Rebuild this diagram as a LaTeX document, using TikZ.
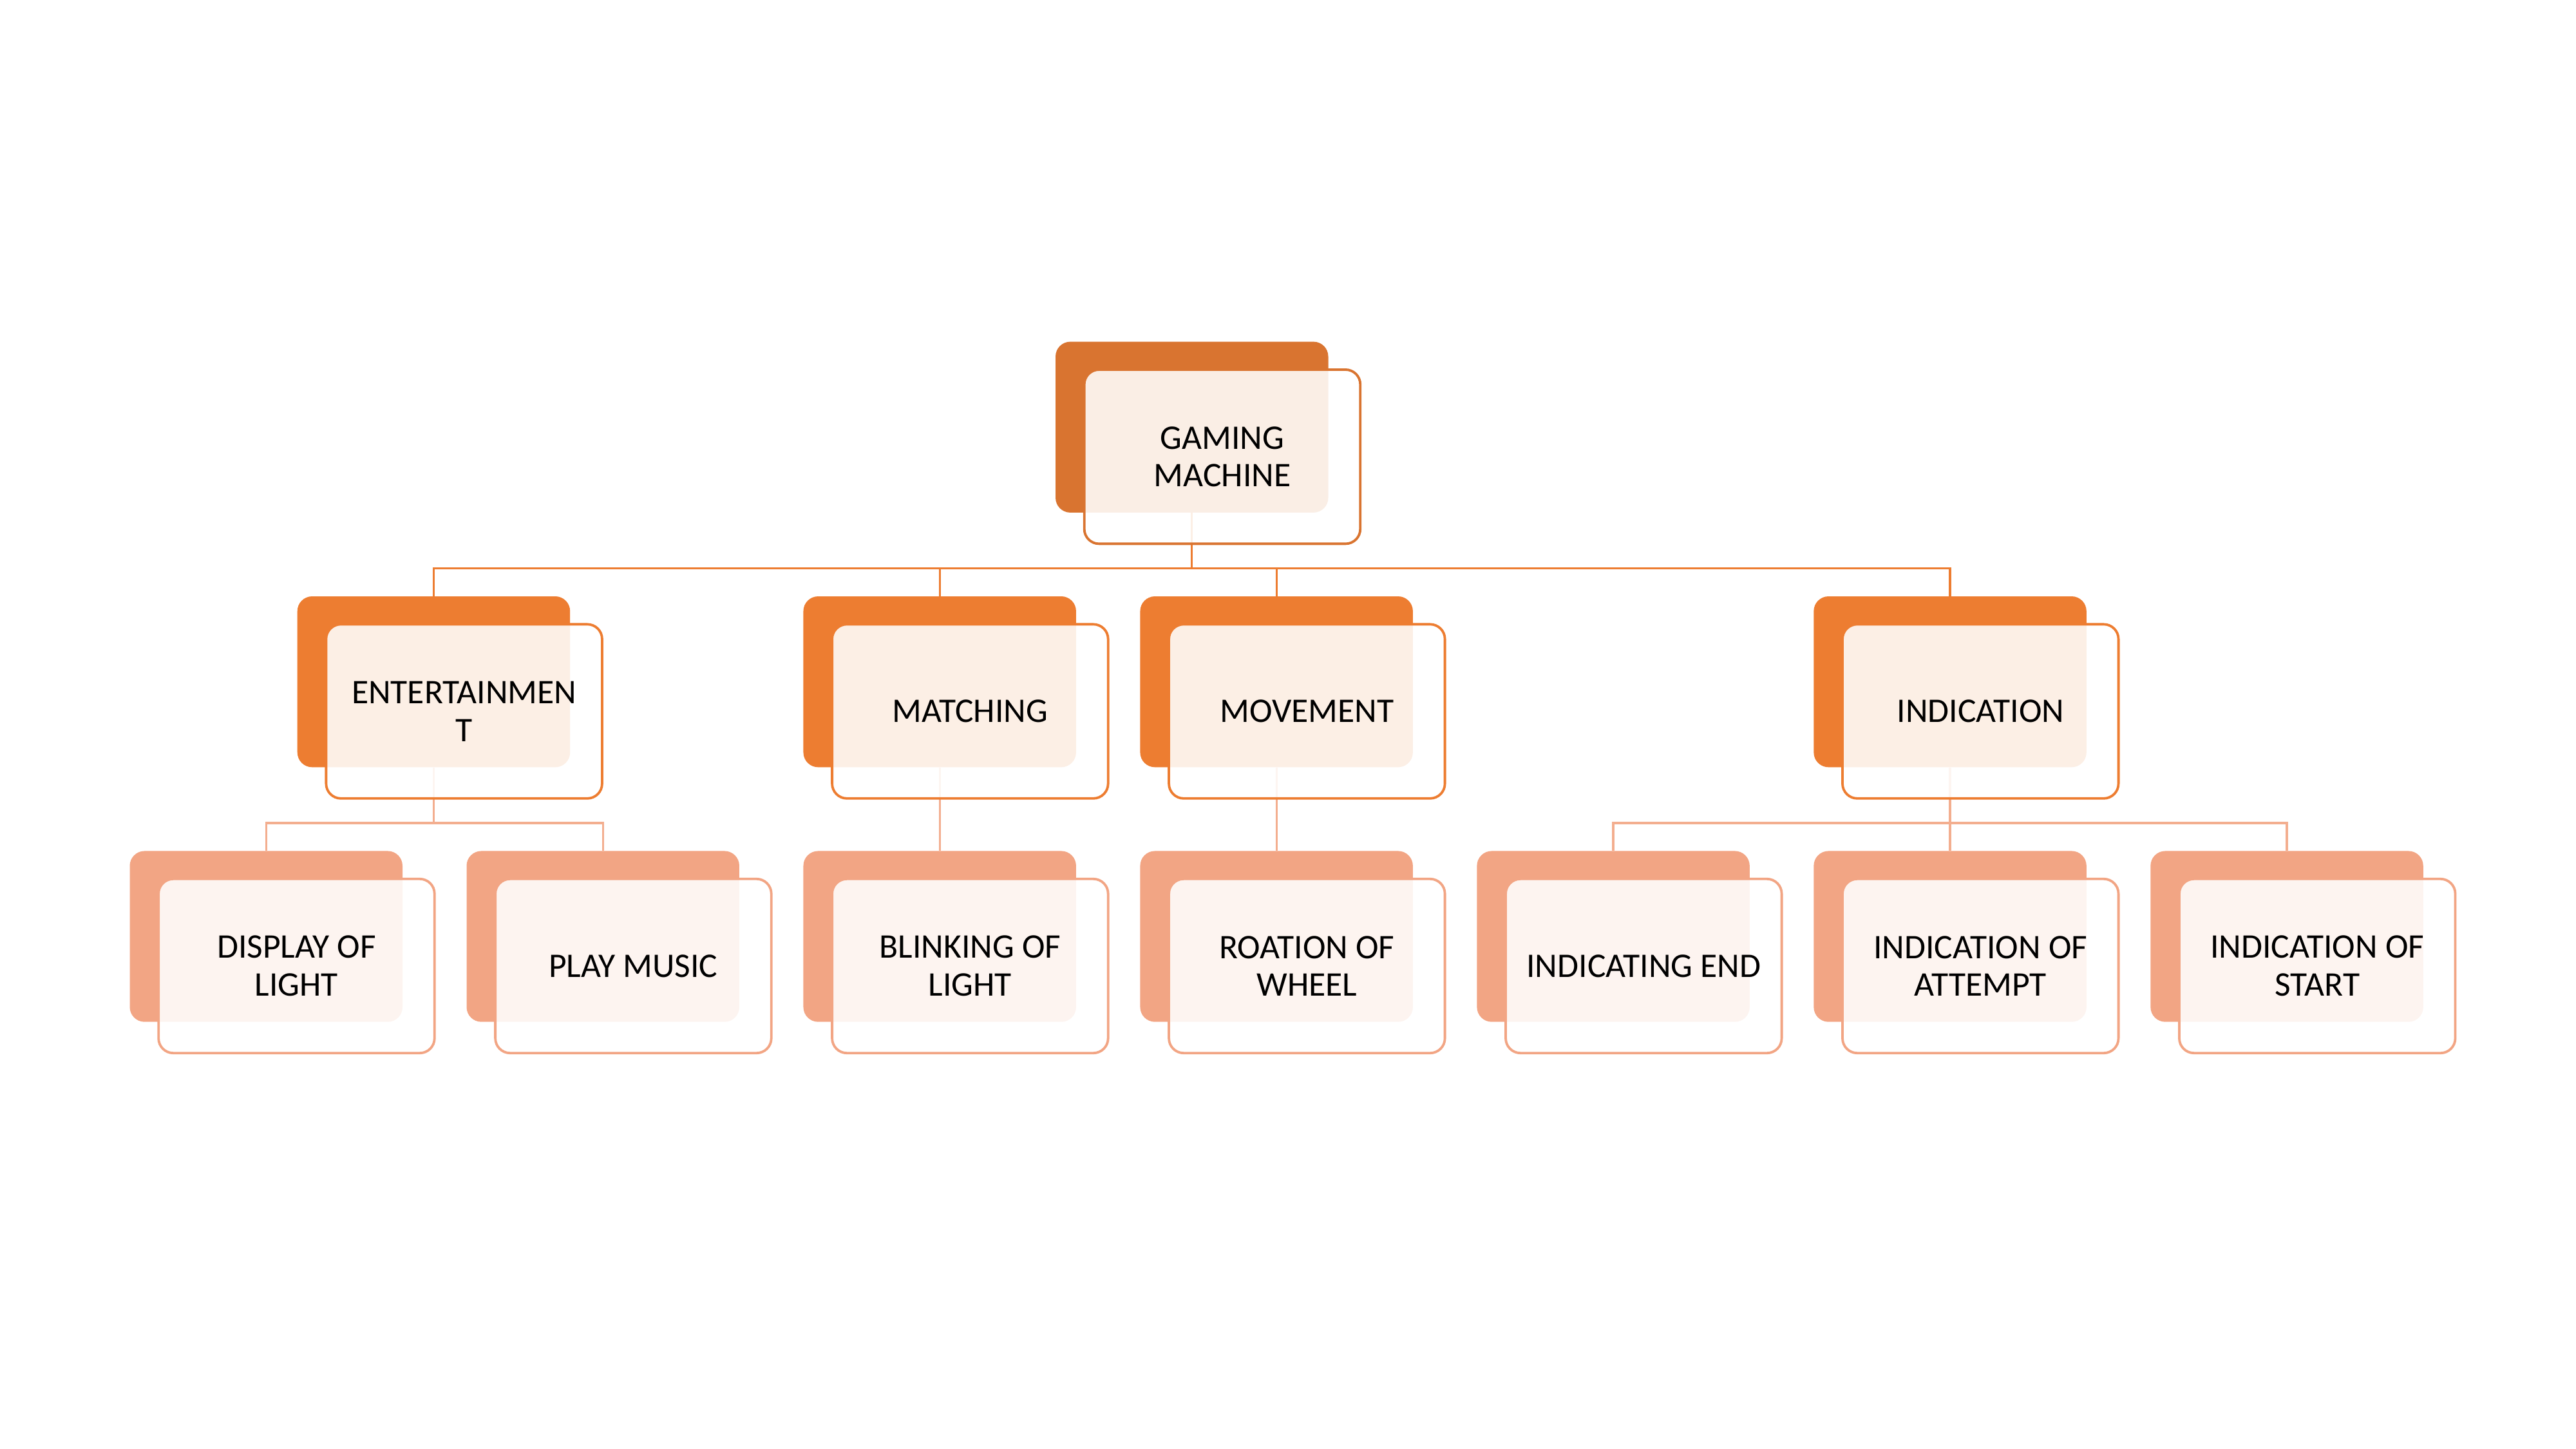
\documentclass[tikz,border=0pt]{standalone}
\usepackage{fontspec}
\setmainfont{Carlito}
\definecolor{topc}{HTML}{D97430}
\definecolor{midc}{HTML}{ED7D31}
\definecolor{lowc}{HTML}{F2A584}
\definecolor{lowl}{HTML}{F3AE8F}
\tikzset{
  backbox/.style={rectangle, rounded corners=9pt, minimum width=166pt, minimum height=104pt, inner sep=0pt, fill=#1},
  frontbox/.style={rectangle, rounded corners=9pt, minimum width=168pt, minimum height=106pt, inner sep=0pt, draw=#1, line width=1.5pt, fill=white, fill opacity=0.88, text opacity=1, align=center, font=\fontsize{21}{23}\selectfont, text=black},
  conn/.style={draw=#1, line width=1.3pt},
}
\begin{document}
\begin{tikzpicture}[x=1pt,y=-1pt]
\useasboundingbox (0,0) rectangle (1568,882);
% back boxes
\node[backbox=topc] (top) at (725.5,260) {};
\node[backbox=midc] (ent) at (264,415) {};
\node[backbox=midc] (mat) at (572,415) {};
\node[backbox=midc] (mov) at (777,415) {};
\node[backbox=midc] (ind) at (1187,415) {};
\node[backbox=lowc] (dis) at (162,570) {};
\node[backbox=lowc] (pla) at (367,570) {};
\node[backbox=lowc] (bli) at (572,570) {};
\node[backbox=lowc] (rot) at (777,570) {};
\node[backbox=lowc] (ien) at (982,570) {};
\node[backbox=lowc] (iat) at (1187,570) {};
\node[backbox=lowc] (ist) at (1392,570) {};
% connectors
\coordinate (b1) at (725.5,346);
\draw[conn=midc] (top.south) -- (b1) -| (ent.north);
\draw[conn=midc] (b1) -| (mat.north);
\draw[conn=midc] (b1) -| (mov.north);
\draw[conn=midc] (b1) -| (ind.north);
\coordinate (b2) at (264,501);
\draw[conn=lowl] (ent.south) -- (b2) -| (dis.north);
\draw[conn=lowl] (b2) -| (pla.north);
\draw[conn=lowl] (mat.south) -- (bli.north);
\draw[conn=lowl] (mov.south) -- (rot.north);
\coordinate (b3) at (1187,501);
\draw[conn=lowl] (ind.south) -- (b3) -| (ien.north);
\draw[conn=lowl] (b3) -| (iat.north);
\draw[conn=lowl] (b3) -| (ist.north);
% front boxes
\node[frontbox=topc] (topf) at ([shift={(18.5pt,-18pt)}]top.center) {GAMING\\MACHINE};
\node[frontbox=midc] (entf) at ([shift={(18.5pt,-18pt)}]ent.center) {ENTERTAINMEN\\T};
\node[frontbox=midc] (matf) at ([shift={(18.5pt,-18pt)}]mat.center) {MATCHING};
\node[frontbox=midc] (movf) at ([shift={(18.5pt,-18pt)}]mov.center) {MOVEMENT};
\node[frontbox=midc] (indf) at ([shift={(18.5pt,-18pt)}]ind.center) {INDICATION};
\node[frontbox=lowc] (disf) at ([shift={(18.5pt,-18pt)}]dis.center) {DISPLAY OF\\LIGHT};
\node[frontbox=lowc] (plaf) at ([shift={(18.5pt,-18pt)}]pla.center) {PLAY MUSIC};
\node[frontbox=lowc] (blif) at ([shift={(18.5pt,-18pt)}]bli.center) {BLINKING OF\\LIGHT};
\node[frontbox=lowc] (rotf) at ([shift={(18.5pt,-18pt)}]rot.center) {ROATION OF\\WHEEL};
\node[frontbox=lowc] (ienf) at ([shift={(18.5pt,-18pt)}]ien.center) {INDICATING END};
\node[frontbox=lowc] (iatf) at ([shift={(18.5pt,-18pt)}]iat.center) {INDICATION OF\\ATTEMPT};
\node[frontbox=lowc] (istf) at ([shift={(18.5pt,-18pt)}]ist.center) {INDICATION OF\\START};
\end{tikzpicture}
\end{document}
